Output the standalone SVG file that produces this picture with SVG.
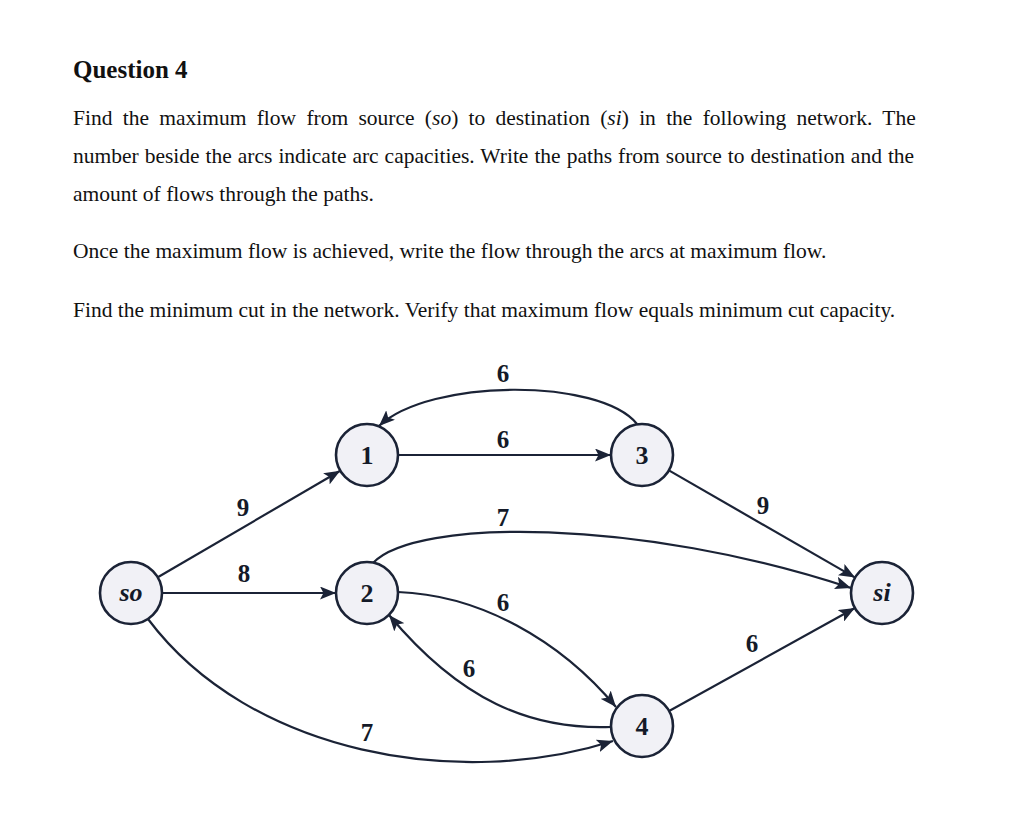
<svg xmlns="http://www.w3.org/2000/svg" width="1024" height="817" viewBox="0 0 1024 817">
<style>
  .t { font-family: "Liberation Serif", "Times New Roman", serif; font-size: 21.5px; fill: #111; }
  .h { font-family: "Liberation Serif", "Times New Roman", serif; font-size: 25px; font-weight: bold; fill: #111; }
  .node circle { fill: #f1f1f6; stroke: #1b2336; stroke-width: 2.6; }
  .node text { font-family: "Liberation Serif", "Times New Roman", serif; font-size: 26px; font-weight: bold; fill: #141a28; text-anchor: middle; }
  .node text.it { font-style: italic; }
  .edges path { fill: none; stroke: #1b2336; stroke-width: 2.2; marker-end: url(#arr); }
  .lbl { font-family: "Liberation Serif", "Times New Roman", serif; font-size: 25px; font-weight: bold; fill: #141a28; text-anchor: middle; }
</style>
<defs>
  <marker id="arr" markerUnits="userSpaceOnUse" markerWidth="17" markerHeight="13" refX="16" refY="6.5" orient="auto">
    <path d="M0,0 L16,6.5 L0,13 L3.5,6.5 z" fill="#1b2336"/>
  </marker>
</defs>
<rect width="1024" height="817" fill="#ffffff"/>

<text class="h" x="73" y="78">Question 4</text>
<text class="t" x="73" y="125" word-spacing="4.9">Find the maximum flow from source (<tspan font-style="italic">so</tspan>) to destination (<tspan font-style="italic">si</tspan>) in the following network. The</text>
<text class="t" x="73" y="163" word-spacing="0.6">number beside the arcs indicate arc capacities. Write the paths from source to destination and the</text>
<text class="t" x="73" y="201">amount of flows through the paths.</text>
<text class="t" x="73" y="258">Once the maximum flow is achieved, write the flow through the arcs at maximum flow.</text>
<text class="t" x="73" y="317">Find the minimum cut in the network. Verify that maximum flow equals minimum cut capacity.</text>

<g class="edges" id="connectors">
  <path d="M157.8,577.3 L340.2,470.7"/>
  <path d="M162,593 L336,593"/>
  <path d="M148,619 C250,755 460,790 613,741"/>
  <path d="M398,455 L611,455"/>
  <path d="M637,424 C600,378 430,378 379,426"/>
  <path d="M668.9,470.4 L855.1,577.6"/>
  <path d="M373,563 C415,518 640,518 851,588"/>
  <path d="M398,592 C480,595 560,640 616,707"/>
  <path d="M611,727 C530,730 460,700 389,615"/>
  <path d="M669.1,711 L854.9,608"/>
</g>

<g id="edge-labels">
  <text class="lbl" x="243" y="516">9</text>
  <text class="lbl" x="244" y="582">8</text>
  <text class="lbl" x="503" y="382">6</text>
  <text class="lbl" x="503" y="448">6</text>
  <text class="lbl" x="503" y="526">7</text>
  <text class="lbl" x="763" y="514">9</text>
  <text class="lbl" x="503" y="611">6</text>
  <text class="lbl" x="469" y="677">6</text>
  <text class="lbl" x="752" y="652">6</text>
  <text class="lbl" x="367" y="741">7</text>
</g>

<g id="node-so" class="node"><circle cx="131" cy="593" r="31"/><text class="it" x="131" y="601">so</text></g>
<g id="node-1" class="node"><circle cx="367" cy="455" r="31"/><text x="367" y="464">1</text></g>
<g id="node-2" class="node"><circle cx="367" cy="593" r="31"/><text x="367" y="602">2</text></g>
<g id="node-3" class="node"><circle cx="642" cy="455" r="31"/><text x="642" y="464">3</text></g>
<g id="node-4" class="node"><circle cx="642" cy="726" r="31"/><text x="642" y="735">4</text></g>
<g id="node-si" class="node"><circle cx="882" cy="593" r="31"/><text class="it" x="882" y="601">si</text></g>
</svg>
